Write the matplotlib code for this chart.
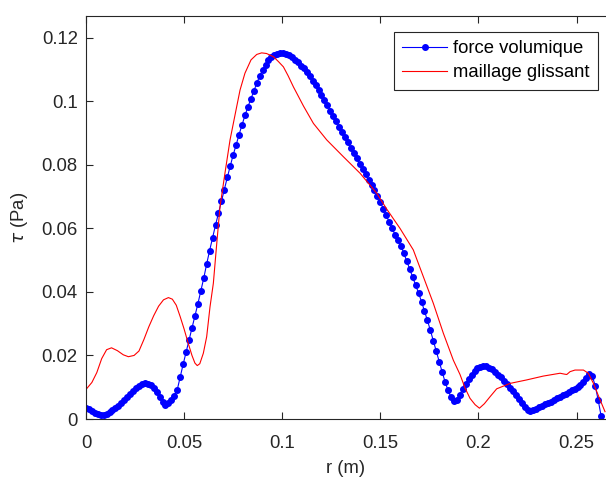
import numpy as np
import matplotlib
matplotlib.use("Agg")
import matplotlib.pyplot as plt
from matplotlib.ticker import FuncFormatter

# force volumique: uniform mesh, step 1.5 mm from 0 to 0.2625 m
tau_blue = [
    0.0036, 0.0030, 0.0024, 0.0019, 0.0015, 0.0013, 0.0014, 0.0017, 0.0022, 0.0028,
    0.0034, 0.0041, 0.0050, 0.0060, 0.0070, 0.0080, 0.0089, 0.0097, 0.0104, 0.0109,
    0.0112, 0.0111, 0.0106, 0.0098, 0.0086, 0.0070, 0.0055, 0.0045, 0.0051, 0.0061,
    0.0073, 0.0092, 0.0132, 0.0172, 0.0210, 0.0247, 0.0286, 0.0323, 0.0362, 0.0403,
    0.0443, 0.0488, 0.0530, 0.0570, 0.0610, 0.0647, 0.0685, 0.0722, 0.0760, 0.0796,
    0.0831, 0.0862, 0.0895, 0.0925, 0.0955, 0.0982, 0.1007, 0.1031, 0.1056, 0.1079,
    0.1097, 0.1114, 0.1128, 0.1138, 0.1145, 0.1149, 0.1151, 0.1151, 0.1149, 0.1145,
    0.1138, 0.1130, 0.1122, 0.1112, 0.1103, 0.1092, 0.1079, 0.1065, 0.1050, 0.1035,
    0.1019, 0.1003, 0.0987, 0.0970, 0.0953, 0.0937, 0.0920, 0.0904, 0.0887, 0.0870,
    0.0854, 0.0837, 0.0820, 0.0803, 0.0786, 0.0770, 0.0753, 0.0737, 0.0720, 0.0702,
    0.0682, 0.0662, 0.0641, 0.0620, 0.0600, 0.0580, 0.0562, 0.0545, 0.0521, 0.0496,
    0.0471, 0.0446, 0.0421, 0.0396, 0.0369, 0.0340, 0.0310, 0.0279, 0.0246, 0.0213,
    0.0180, 0.0148, 0.0117, 0.0090, 0.0069, 0.0058, 0.0061, 0.0077, 0.0094, 0.0110,
    0.0125, 0.0139, 0.0151, 0.0160, 0.0165, 0.0167, 0.0166, 0.0162, 0.0156, 0.0149,
    0.0140, 0.0131, 0.0121, 0.0110, 0.0099, 0.0087, 0.0074, 0.0062, 0.0050, 0.0038,
    0.0029, 0.0025, 0.0028, 0.0033, 0.0038, 0.0042, 0.0046, 0.0050, 0.0054, 0.0060,
    0.0065, 0.0069, 0.0074, 0.0079, 0.0085, 0.0090, 0.0095, 0.0101, 0.0108, 0.0117,
    0.0130, 0.0142, 0.0135, 0.0105, 0.0060, 0.0010,
]
r_blue = np.linspace(0, 0.2625, len(tau_blue))

# maillage glissant
r_red = [
    0.0000, 0.0030, 0.0055, 0.0080, 0.0105, 0.0130, 0.0160, 0.0190, 0.0216, 0.0245,
    0.0270, 0.0295, 0.0320, 0.0345, 0.0370, 0.0395, 0.0420, 0.0440, 0.0460, 0.0480,
    0.0500, 0.0520, 0.0540, 0.0555, 0.0567, 0.0580, 0.0598, 0.0615, 0.0632, 0.0649,
    0.0666, 0.0683, 0.0708, 0.0734, 0.0768, 0.0785, 0.0810, 0.0841, 0.0870, 0.0895,
    0.0920, 0.0955, 0.0980, 0.1006, 0.1030, 0.1057, 0.1080, 0.1108, 0.1159, 0.1227,
    0.1312, 0.1397, 0.1482, 0.1533, 0.1600, 0.1668, 0.1719, 0.1770, 0.1821, 0.1872,
    0.1906, 0.1932, 0.1957, 0.1983, 0.2005, 0.2030, 0.2059, 0.2093, 0.2161, 0.2246,
    0.2330, 0.2416, 0.2440, 0.2450, 0.2467, 0.2492, 0.2535, 0.2560, 0.2586, 0.2620,
    0.2645,
]
tau_red = [
    0.0093, 0.0115, 0.0146, 0.0190, 0.0218, 0.0224, 0.0215, 0.0202, 0.0196, 0.0200,
    0.0214, 0.0250, 0.0290, 0.0325, 0.0355, 0.0375, 0.0382, 0.0377, 0.0358, 0.0322,
    0.0283, 0.0240, 0.0200, 0.0176, 0.0168, 0.0174, 0.0207, 0.0259, 0.0353, 0.0427,
    0.0550, 0.0668, 0.0773, 0.0878, 0.0983, 0.1035, 0.1088, 0.1130, 0.1147, 0.1152,
    0.1150, 0.1140, 0.1125, 0.1108, 0.1080, 0.1045, 0.1018, 0.0985, 0.0930, 0.0878,
    0.0825, 0.0773, 0.0710, 0.0660, 0.0600, 0.0532, 0.0448, 0.0364, 0.0270, 0.0185,
    0.0140, 0.0097, 0.0065, 0.0045, 0.0034, 0.0048, 0.0070, 0.0095, 0.0112, 0.0123,
    0.0135, 0.0144, 0.0141, 0.0140, 0.0149, 0.0154, 0.0154, 0.0144, 0.0112, 0.0060,
    0.0023,
]

x_ticks = [0, 0.05, 0.1, 0.15, 0.2, 0.25]
y_ticks = [0, 0.02, 0.04, 0.06, 0.08, 0.1, 0.12]

plt.rcParams['font.family'] = ['Liberation Sans', 'DejaVu Sans']
plt.rcParams['mathtext.fontset'] = 'dejavusans'
txt = '#262626'

fig = plt.figure(figsize=(6.06, 4.78), dpi=100)
ax = fig.add_axes([86 / 606, 59 / 478, 520 / 606, 403 / 478])

ax.plot(r_blue, tau_blue, '-', color='#0000ff', lw=0.8, marker='o', ms=4.0,
        mec='#0000ff', mfc='#0000ff', label='force volumique')
ax.plot(r_red, tau_red, '-', color='#ff0000', lw=0.8, label='maillage glissant')

ax.set_xlim(0, 0.265)
ax.set_ylim(0, 0.1268)
ax.set_xticks(x_ticks)
ax.set_yticks(y_ticks)
fmt = FuncFormatter(lambda v, p: '%g' % v)
ax.xaxis.set_major_formatter(fmt)
ax.yaxis.set_major_formatter(fmt)
ax.tick_params(direction='in', length=5, width=0.8, colors=txt, labelsize=13.3,
               top=True, right=False)
ax.tick_params(axis='x', pad=11.5)
ax.tick_params(axis='y', pad=6)
for s in ['left', 'bottom', 'top']:
    ax.spines[s].set_color(txt)
    ax.spines[s].set_linewidth(0.8)
ax.spines['right'].set_visible(False)

ax.set_xlabel('r (m)', fontsize=13.3, color=txt, labelpad=6)
ax.set_ylabel(r'$\tau$ (Pa)', fontsize=13.3, color=txt, labelpad=8)

leg = ax.legend(loc='upper right', bbox_to_anchor=(0.984, 0.961), borderaxespad=0,
                fontsize=13.3, fancybox=False, edgecolor=txt, framealpha=1,
                handlelength=2.45, handletextpad=0.3, borderpad=0.45,
                labelspacing=0.4, numpoints=1)
leg.get_frame().set_linewidth(0.8)
for t in leg.get_texts():
    t.set_color('black')

fig.savefig('out.png', dpi=100)
